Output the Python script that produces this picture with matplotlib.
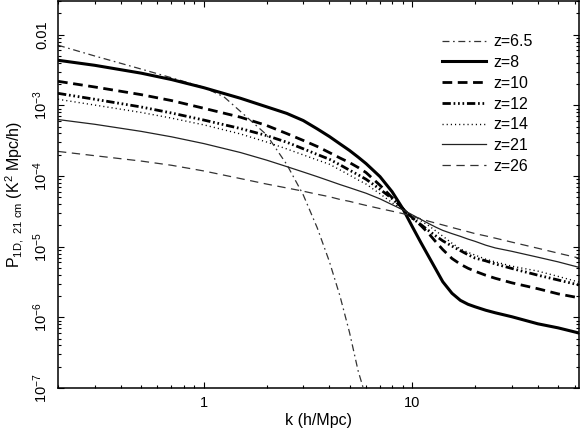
import matplotlib
matplotlib.use("Agg")
import matplotlib.pyplot as plt
from matplotlib.ticker import LogLocator, NullFormatter

plt.rcParams['font.family'] = ['Liberation Sans', 'DejaVu Sans']
plt.rcParams['mathtext.default'] = 'regular'
plt.rcParams['lines.scale_dashes'] = False

# valores
k = [0.2, 0.3, 0.5, 0.7, 1, 1.5, 2, 2.5, 3, 3.5, 4, 4.5, 5, 5.5, 6, 7, 8, 9, 10, 11, 12, 13, 14,
     15.5, 17, 18.5, 20, 22.5, 25, 30, 40, 50, 63]

p_z8 = [4.35e-3, 3.69e-3, 2.86e-3, 2.32e-3, 1.78e-3, 1.26e-3, 9.55e-4, 7.7e-4, 6.1e-4, 4.65e-4, 3.63e-4,
        2.85e-4, 2.30e-4, 1.85e-4, 1.50e-4, 9.8e-5, 6.0e-5, 3.46e-5, 1.92e-5, 1.14e-5, 7.2e-6, 4.72e-6,
        3.19e-6, 2.19e-6, 1.74e-6, 1.53e-6, 1.41e-6, 1.26e-6, 1.16e-6, 1.02e-6, 8.1e-7, 7.1e-7, 6.0e-7]
p_z10 = [2.19e-3, 1.82e-3, 1.42e-3, 1.17e-3, 9.1e-4, 6.8e-4, 5.2e-4, 3.99e-4, 3.19e-4, 2.62e-4, 2.15e-4,
         1.80e-4, 1.55e-4, 1.32e-4, 1.12e-4, 7.4e-5, 4.95e-5, 3.46e-5, 2.58e-5, 1.99e-5, 1.53e-5, 1.16e-5,
         9.1e-6, 6.8e-6, 5.65e-6, 4.95e-6, 4.49e-6, 3.94e-6, 3.57e-6, 3.08e-6, 2.54e-6, 2.15e-6, 1.89e-6]
p_z12 = [1.48e-3, 1.22e-3, 9.5e-4, 7.8e-4, 6.2e-4, 4.7e-4, 3.74e-4, 3.01e-4, 2.43e-4, 2.02e-4, 1.73e-4,
         1.44e-4, 1.21e-4, 1.04e-4, 9.0e-5, 6.5e-5, 4.8e-5, 3.47e-5, 2.53e-5, 2.05e-5, 1.68e-5, 1.41e-5,
         1.21e-5, 1.02e-5, 8.8e-6, 7.7e-6, 6.9e-6, 6.3e-6, 5.7e-6, 4.92e-6, 3.95e-6, 3.38e-6, 2.87e-6]
p_z14 = [1.22e-3, 1.01e-3, 7.95e-4, 6.6e-4, 5.3e-4, 3.94e-4, 3.03e-4, 2.42e-4, 1.99e-4, 1.69e-4, 1.47e-4,
         1.22e-4, 1.03e-4, 8.8e-5, 7.7e-5, 5.6e-5, 4.20e-5, 3.32e-5, 2.77e-5, 2.32e-5, 1.98e-5, 1.66e-5,
         1.41e-5, 1.12e-5, 9.3e-6, 8.3e-6, 7.6e-6, 6.65e-6, 6.1e-6, 5.3e-6, 4.51e-6, 3.80e-6, 3.15e-6]
p_z21 = [6.3e-4, 5.4e-4, 4.29e-4, 3.59e-4, 2.88e-4, 2.15e-4, 1.68e-4, 1.36e-4, 1.14e-4, 9.8e-5, 8.55e-5,
         7.57e-5, 6.84e-5, 6.22e-5, 5.71e-5, 4.75e-5, 3.93e-5, 3.33e-5, 2.82e-5, 2.43e-5, 2.12e-5, 1.88e-5,
         1.70e-5, 1.53e-5, 1.40e-5, 1.28e-5, 1.19e-5, 1.05e-5, 9.6e-6, 8.6e-6, 7.1e-6, 6.1e-6, 5.1e-6]
p_z26 = [2.23e-4, 1.94e-4, 1.63e-4, 1.42e-4, 1.18e-4, 9.2e-5, 7.7e-5, 6.78e-5, 6.1e-5, 5.52e-5, 5.1e-5,
         4.66e-5, 4.38e-5, 4.08e-5, 3.84e-5, 3.46e-5, 3.18e-5, 2.94e-5, 2.68e-5, 2.48e-5, 2.29e-5, 2.15e-5,
         2.03e-5, 1.87e-5, 1.74e-5, 1.63e-5, 1.53e-5, 1.42e-5, 1.32e-5, 1.16e-5, 9.5e-6, 8.1e-6, 6.9e-6]

k_z65 = [0.2, 0.3, 0.5, 0.7, 1, 1.25, 1.5, 2, 2.5, 3, 3.5, 4, 4.5, 5, 5.5, 5.8, 6.0]
p_z65 = [7.1e-3, 5.0e-3, 3.27e-3, 2.46e-3, 1.80e-3, 1.32e-3, 8.2e-4, 3.84e-4, 1.46e-4, 5.4e-5, 1.85e-5,
         6.2e-6, 2.0e-6, 6.1e-7, 1.74e-7, 1.03e-7, 7e-8]

y_ticks = [1e-7, 1e-6, 1e-5, 1e-4, 1e-3, 1e-2]
y_labels = ['$10^{-7}$', '$10^{-6}$', '$10^{-5}$', '$10^{-4}$', '$10^{-3}$', '0.01']

# grafico
fig = plt.figure(figsize=(5.81, 4.33), dpi=100)
ax = fig.add_axes([58/581, 45/433, 521/581, 387/433])

ax.plot(k_z65, p_z65, color='#333333', lw=0.9, dashes=(5, 2.6, 1.2, 2.6), label='z=6.5')
ax.plot(k, p_z8, color='black', lw=2.2, label='z=8')
ax.plot(k, p_z10, color='black', lw=2.0, dashes=(7, 4), label='z=10')
ax.plot(k, p_z12, color='black', lw=2.0, dashes=(6, 2, 1.2, 2, 1.2, 2, 1.2, 2), label='z=12')
ax.plot(k, p_z14, color='black', lw=1.0, dashes=(0.8, 2.2), label='z=14')
ax.plot(k, p_z21, color='#222222', lw=0.9, label='z=21')
ax.plot(k, p_z26, color='#333333', lw=0.9, dashes=(6, 4), label='z=26')

ax.set_xscale('log')
ax.set_yscale('log')
ax.set_xlim(0.2, 63)
ax.set_ylim(1e-7, 0.03)

ax.set_xticks([1, 10], ['1', '10'])
ax.set_yticks(y_ticks, y_labels)
ax.xaxis.set_minor_locator(LogLocator(base=10, subs=range(2, 10)))
ax.yaxis.set_minor_locator(LogLocator(base=10, subs=range(2, 10), numticks=20))
ax.xaxis.set_minor_formatter(NullFormatter())
ax.yaxis.set_minor_formatter(NullFormatter())

ax.tick_params(which='both', direction='in', top=True, right=True, width=0.8, labelsize=10.5)
ax.tick_params(which='major', length=4.5)
ax.tick_params(which='minor', length=2.5)
ax.tick_params(axis='x', pad=6)
ax.tick_params(axis='y', pad=6)
for lbl in ax.get_yticklabels():
    lbl.set_rotation(90)
    lbl.set_va('center')

for s in ax.spines.values():
    s.set_linewidth(1.1)

ax.set_xlabel('k (h/Mpc)', fontsize=11.5, labelpad=2)
ax.set_ylabel('P$_{1D,\\ 21\\ cm}$ (K$^2$ Mpc/h)', fontsize=11.5, labelpad=4)

ax.legend(loc='upper left', bbox_to_anchor=(0.737, 0.914), frameon=False, fontsize=11.5,
          handlelength=2.75, handletextpad=0.44, labelspacing=0.36, borderpad=0, borderaxespad=0)

fig.savefig('out.png', dpi=100)
